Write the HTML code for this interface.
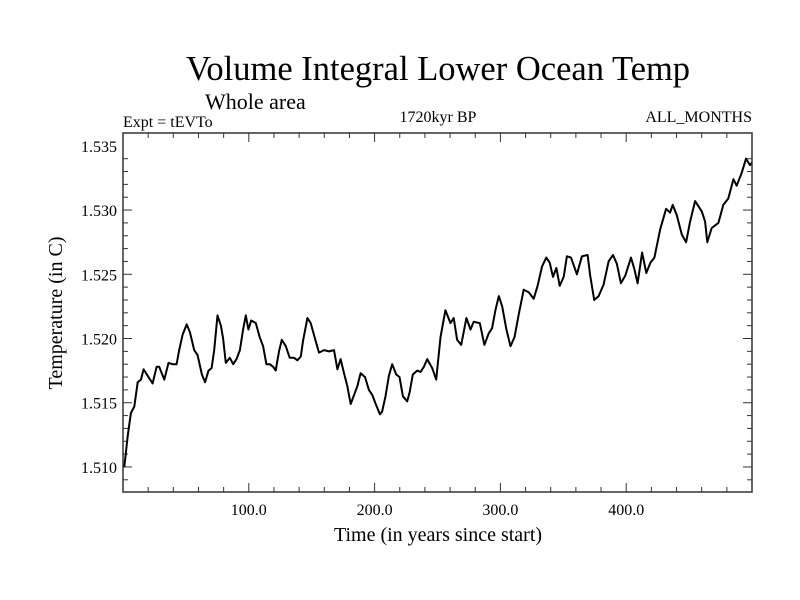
<!DOCTYPE html>
<html><head><meta charset="utf-8"><style>
html,body{margin:0;padding:0;background:#fff;}
svg{display:block;font-family:"Liberation Serif",serif;}
</style></head><body>
<svg id="chart" width="800" height="600">
<text x="438" y="80" font-size="34.5" text-anchor="middle">Volume Integral Lower Ocean Temp</text>
<text x="205" y="109" font-size="22">Whole area</text>
<text x="123" y="127" font-size="16">Expt = tEVTo</text>
<text x="438" y="122" font-size="16" text-anchor="middle">1720kyr BP</text>
<text x="752" y="122" font-size="16" text-anchor="end">ALL_MONTHS</text>
<text x="438" y="541" font-size="20" text-anchor="middle">Time (in years since start)</text>
<text transform="translate(62,313) rotate(-90)" font-size="20" text-anchor="middle">Temperature (in C)</text>
<g id="axes"></g>
<path id="series" fill="none" stroke="#000" stroke-width="2" stroke-linejoin="round"></path>
<rect x="123" y="133" width="629" height="359" fill="none" stroke="#333" stroke-width="1.5"></rect>
</svg>
<script>
const years=[1,3.7,6.3,9,11.7,14.3,16.4,23.5,26.7,28.8,32.8,36.2,39.4,42.6,44.7,47.4,50.6,53.2,56.6,59.3,62.7,65.3,68,70.4,72.5,75.1,77.8,79.6,81.7,84.9,87.6,90.2,92.9,95.5,97.6,99.7,101.9,105.6,108.7,111.4,114,116.7,119.4,121.4,124,126.2,129.4,132.5,136,138.6,141.3,143.1,146.6,149.2,153.2,155.8,159.8,163.8,167.7,170.4,173,175.7,178.3,181,184.4,186.3,188.9,192.4,195.5,198.2,201.3,204.2,206,208.7,211.4,214,217.2,219.8,222.5,225.9,227.8,230.4,233.9,236.5,239.2,241.8,245.8,249,252.4,256.3,260.3,262.9,265.6,268.8,273,276.2,278.8,283.6,287.3,290.7,293.4,296,298.7,301.4,304.8,308,311.2,314.6,318.5,322.5,326.5,329.6,333.1,336.5,339.2,341.8,344.5,347.1,350.3,352.9,356.1,360.8,364.8,369.3,371.4,374.6,378.1,382,386,389.5,392.6,395.8,399.3,403.8,406.5,409.1,412.6,416,419.2,422.4,427,431.7,434.9,437,440.2,444.2,447.6,450.8,454.8,460.1,462.7,464.5,468,473.3,477.2,481.2,485.2,487.8,491.8,495.2,498.4,500];
const temps=[1.5100,1.5124,1.5142,1.5147,1.5166,1.5168,1.5176,1.5165,1.5178,1.5178,1.5168,1.5181,1.5180,1.5180,1.5191,1.5203,1.5211,1.5205,1.5191,1.5187,1.5172,1.5166,1.5175,1.5177,1.5191,1.5218,1.5210,1.5200,1.5181,1.5185,1.5180,1.5184,1.5191,1.5207,1.5218,1.5207,1.5214,1.5212,1.5201,1.5194,1.5180,1.5180,1.5178,1.5175,1.5190,1.5199,1.5194,1.5185,1.5185,1.5183,1.5186,1.5198,1.5216,1.5212,1.5198,1.5189,1.5191,1.5190,1.5191,1.5176,1.5184,1.5173,1.5163,1.5149,1.5158,1.5163,1.5173,1.5170,1.5160,1.5156,1.5148,1.5141,1.5143,1.5155,1.5171,1.5180,1.5172,1.5170,1.5155,1.5151,1.5158,1.5172,1.5175,1.5174,1.5178,1.5184,1.5177,1.5168,1.5201,1.5222,1.5212,1.5216,1.5199,1.5195,1.5216,1.5207,1.5213,1.5212,1.5195,1.5204,1.5208,1.5222,1.5233,1.5225,1.5207,1.5194,1.5201,1.5219,1.5238,1.5236,1.5231,1.5241,1.5256,1.5263,1.5259,1.5248,1.5255,1.5241,1.5248,1.5264,1.5263,1.5250,1.5264,1.5265,1.5249,1.5230,1.5233,1.5242,1.5260,1.5265,1.5258,1.5243,1.5249,1.5263,1.5254,1.5243,1.5267,1.5251,1.5259,1.5263,1.5285,1.5301,1.5298,1.5304,1.5296,1.5281,1.5275,1.5291,1.5307,1.5299,1.5291,1.5275,1.5286,1.5290,1.5304,1.5309,1.5324,1.5319,1.5329,1.5340,1.5335,1.5337];
const xTicks=[100,200,300,400];
const xTickLabels=["100.0","200.0","300.0","400.0"];
const yTicks=[1.510,1.515,1.520,1.525,1.530,1.535];
const yTickLabels=["1.510","1.515","1.520","1.525","1.530","1.535"];

const X0=123,X1=752,Y0=492,Y1=133;
const xMin=0,xMax=500,yMin=1.50805,yMax=1.5360;
function sx(v){return X0+(v-xMin)/(xMax-xMin)*(X1-X0);}
function sy(v){return Y0-(v-yMin)/(yMax-yMin)*(Y0-Y1);}
const NS="http://www.w3.org/2000/svg";
const axes=document.getElementById('axes');
function line(x1,y1,x2,y2,name){const l=document.createElementNS(NS,'line');l.setAttribute('x1',x1);l.setAttribute('y1',y1);l.setAttribute('x2',x2);l.setAttribute('y2',y2);l.setAttribute('stroke','#333');l.setAttribute('stroke-width','1');


axes.appendChild(l);}
function txt(x,y,s,anchor,name){const t=document.createElementNS(NS,'text');t.setAttribute('x',x);t.setAttribute('y',y);t.setAttribute('font-size','16');t.setAttribute('text-anchor',anchor);t.textContent=s;


axes.appendChild(t);}
for(let v=20;v<500;v+=20){const x=sx(v);const major=v%100===0;const L=major?9:5;line(x,Y0,x,Y0-L,'x-tick');line(x,Y1,x,Y1+L,'x-tick-top');}
for(let k=0;k<=25;k++){const v=1.509+k*0.001;if(v>yMax)break;const y=sy(v);const major=Math.abs((v*1000)%5)<1e-6||Math.abs((v*1000)%5-5)<1e-6;const L=major?9:5;line(X0,y,X0+L,y,'y-tick');line(X1,y,X1-L,y,'y-tick-right');}
xTicks.forEach((v,i)=>txt(sx(v),515,xTickLabels[i],'middle','x-tick-label'));
yTicks.forEach((v,i)=>txt(117,sy(v)+6,yTickLabels[i],'end','y-tick-label'));
let d='';years.forEach((v,i)=>{d+=(i?'L':'M')+sx(v).toFixed(1)+','+sy(temps[i]).toFixed(1);});
document.getElementById('series').setAttribute('d',d);
</script>
</body></html>
